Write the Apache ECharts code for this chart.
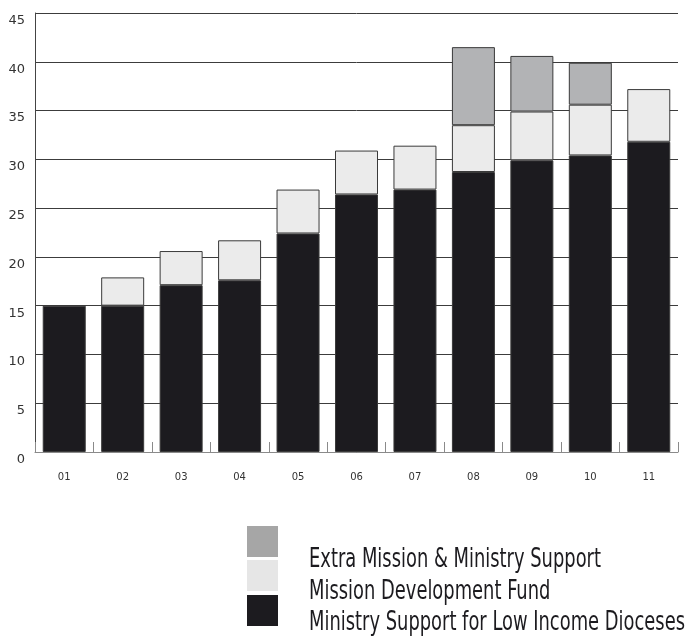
<!DOCTYPE html>
<html>
<head>
<meta charset="utf-8">
<script src="https://cdn.jsdelivr.net/npm/echarts@6/dist/echarts.min.js"></script>
<style>
  html, body { margin: 0; padding: 0; background: #fff; }
  #chart { width: 686px; height: 642px; }
</style>
</head>
<body>
<div id="chart"></div>
<script>
// Year labels along the bottom axis
const categories = ['01', '02', '03', '04', '05', '06', '07', '08', '09', '10', '11'];

// Stacked funding components (null = no segment that year)
const lowIncome = [15.0, 15.0, 17.1, 17.6, 22.4, 26.4, 26.9, 28.7, 29.9, 30.4, 31.8];
const missionDev = [null, 2.9, 3.5, 4.1, 4.5, 4.5, 4.5, 4.8, 5.0, 5.2, 5.4];
const extraSupport = [null, null, null, null, null, null, null, 8.0, 5.7, 4.3, null];

const seriesNames = [
  'Ministry Support for Low Income Dioceses',
  'Mission Development Fund',
  'Extra Mission & Ministry Support'
];
const barColors = ['#1c1b1f', '#ebebeb', '#b2b3b5'];
const swatchColors = ['#1c1b1f', '#e6e6e6', '#a6a6a6'];

const chart = echarts.init(document.getElementById('chart'));

function barSeries(name, data, color) {
  return {
    name: name,
    type: 'bar',
    stack: 'total',
    barWidth: 43,
    data: data,
    itemStyle: { color: color, borderColor: '#3a3a3a', borderWidth: 1 },
    emphasis: { disabled: true }
  };
}

// Legend drawn as stacked swatches with condensed labels set slightly lower
const legendItems = [];
const swatchTop = [526, 560, 595];
const textCenter = [560, 592, 623];
[2, 1, 0].forEach(function (idx, row) {
  legendItems.push({
    type: 'rect',
    shape: { x: 247, y: swatchTop[row], width: 31, height: 31 },
    style: { fill: swatchColors[idx] }
  });
  legendItems.push({
    type: 'text',
    x: 309,
    y: textCenter[row],
    scaleX: 0.765,
    style: {
      text: seriesNames[idx],
      font: '26px "Liberation Sans Narrow", "DejaVu Sans Condensed", sans-serif',
      fill: '#1c1b1f',
      verticalAlign: 'middle',
      align: 'left'
    }
  });
});

chart.setOption({
  animation: false,
  grid: { left: 35, right: 8, top: 13, bottom: 190 },
  xAxis: {
    type: 'category',
    data: categories,
    axisLine: { show: true, lineStyle: { color: '#8a8a8a', width: 1 } },
    axisTick: { show: true, inside: true, length: 10, lineStyle: { color: '#8a8a8a' } },
    axisLabel: { color: '#333', fontSize: 10, fontFamily: 'DejaVu Sans', margin: 20 }
  },
  yAxis: {
    type: 'value',
    min: 0,
    max: 45,
    interval: 5,
    axisLine: { show: true, lineStyle: { color: '#444', width: 1 } },
    axisTick: { show: false },
    axisLabel: {
      color: '#333', fontSize: 13, fontFamily: 'DejaVu Sans', margin: 10,
      verticalAlign: 'top', padding: [1, 0, 0, 0]
    },
    splitLine: { show: true, lineStyle: { color: '#3c3c3c', width: 1 } }
  },
  series: [
    barSeries(seriesNames[0], lowIncome, barColors[0]),
    barSeries(seriesNames[1], missionDev, barColors[1]),
    barSeries(seriesNames[2], extraSupport, barColors[2])
  ],
  graphic: legendItems
});
</script>
</body>
</html>
